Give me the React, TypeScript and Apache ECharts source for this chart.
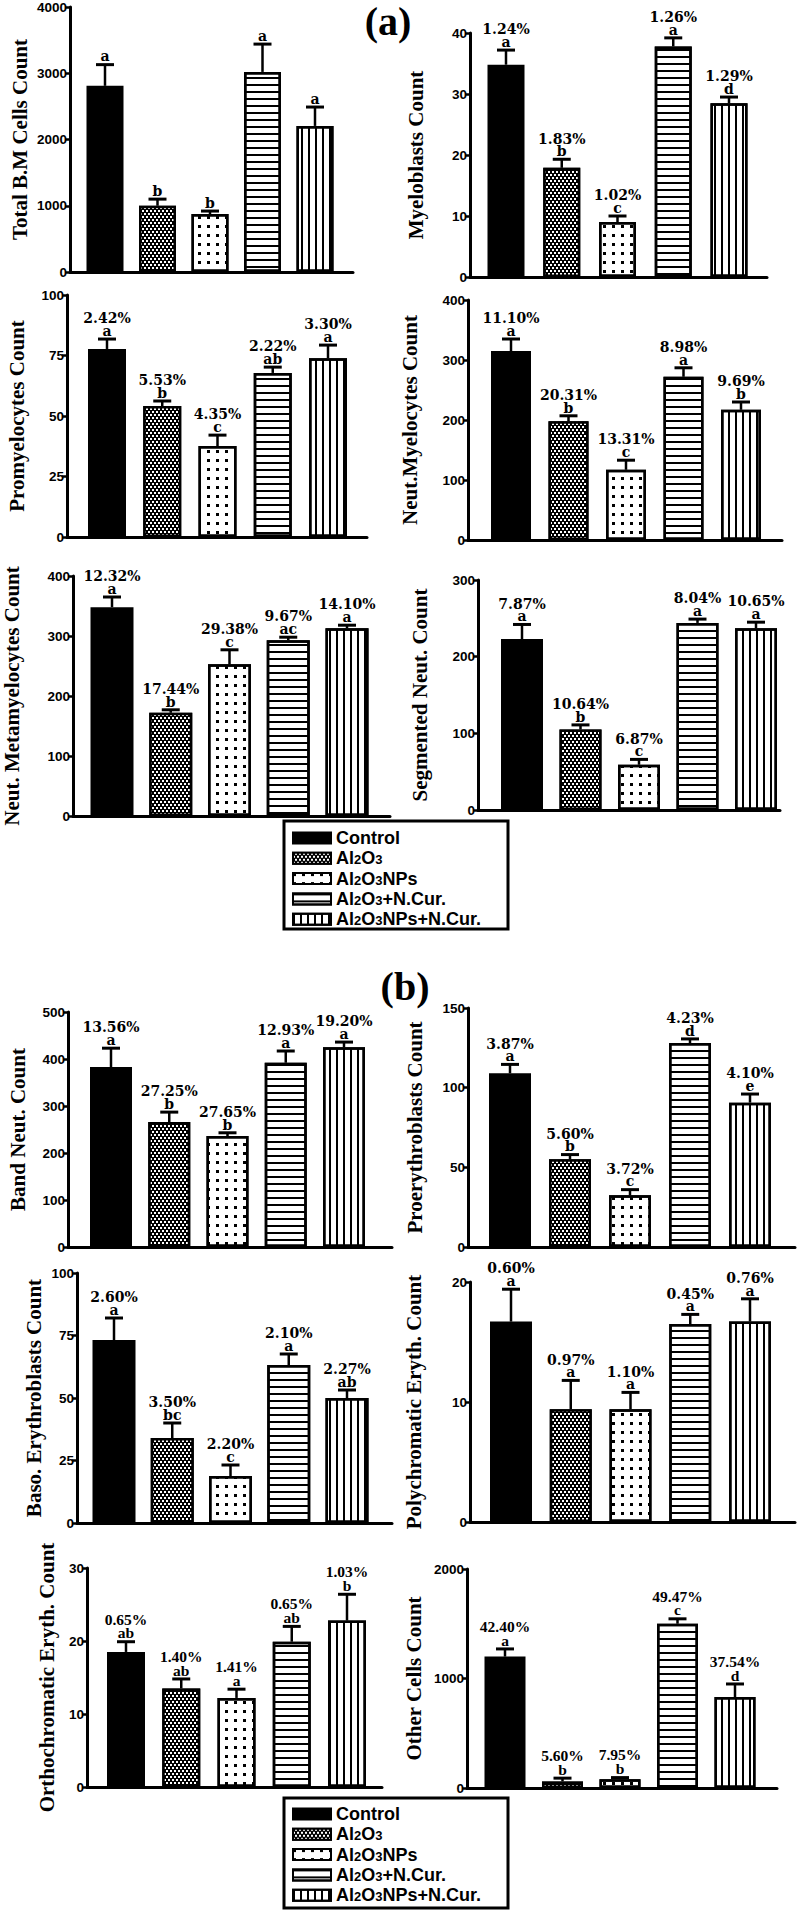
import React, { useEffect, useRef } from 'react';
import * as echarts from 'echarts';

const GROUPS = ['Control', 'Al2O3', 'Al2O3NPs', 'Al2O3+N.Cur.', 'Al2O3NPs+N.Cur.'];

const PANEL_TITLES = [
  'Total B.M Cells Count',
  'Myeloblasts Count',
  'Promyelocytes Count',
  'Neut.Myelocytes Count',
  'Neut. Metamyelocytes Count',
  'Segmented Neut. Count',
  'Band Neut. Count',
  'Proerythroblasts Count',
  'Baso. Erythroblasts Count',
  'Polychromatic Eryth. Count',
  'Orthochromatic Eryth. Count',
  'Other Cells Count',
];

const Y_MAX = [4000, 40, 100, 400, 400, 300, 500, 150, 100, 20, 30, 2000];
const Y_STEP = [1000, 10, 25, 100, 100, 100, 100, 50, 25, 10, 10, 1000];

const MEANS = [
  [2810, 1000, 875, 3020, 2205],
  [34.8, 17.9, 9.0, 37.8, 28.5],
  [77.7, 54.1, 37.6, 67.8, 73.9],
  [315, 198, 117, 272, 217],
  [348, 172, 253, 293, 313],
  [223, 105, 59, 244, 237],
  [383, 266, 236, 392, 425],
  [109, 55, 32.5, 128, 90.6],
  [73.2, 34, 18.8, 63.2, 50],
  [16.7, 9.4, 9.4, 16.5, 16.7],
  [18.5, 13.5, 12.2, 19.9, 22.8],
  [1200, 60, 80, 1500, 830],
];

const ERRS = [
  [320, 100, 45, 420, 285],
  [2.4, 1.4, 1.0, 1.4, 1.0],
  [4.1, 2.1, 4.5, 2.4, 5.4],
  [20, 9, 16, 15, 13],
  [17, 5, 24, 5, 5],
  [19, 6, 7, 5, 8],
  [40, 21, 7, 25, 11],
  [5.6, 3, 3.5, 2.6, 5.4],
  [8.8, 6, 4.4, 4.4, 3.2],
  [2.7, 2.4, 1.4, 0.8, 1.9],
  [1.4, 1.3, 1.2, 2.1, 3.6],
  [70, 30, 15, 45, 120],
];

const LETTERS = [
  ['a', 'b', 'b', 'a', 'a'],
  ['a', 'b', 'c', 'a', 'd'],
  ['a', 'b', 'c', 'ab', 'a'],
  ['a', 'b', 'c', 'a', 'b'],
  ['a', 'b', 'c', 'ac', 'a'],
  ['a', 'b', 'c', 'a', 'a'],
  ['a', 'b', 'b', 'a', 'a'],
  ['a', 'b', 'c', 'd', 'e'],
  ['a', 'bc', 'c', 'a', 'ab'],
  ['a', 'a', 'a', 'a', 'a'],
  ['ab', 'ab', 'a', 'ab', 'b'],
  ['a', 'b', 'b', 'c', 'd'],
];

const PERCENTS = [
  ['', '', '', '', ''],
  ['1.24', '1.83', '1.02', '1.26', '1.29'],
  ['2.42', '5.53', '4.35', '2.22', '3.30'],
  ['11.10', '20.31', '13.31', '8.98', '9.69'],
  ['12.32', '17.44', '29.38', '9.67', '14.10'],
  ['7.87', '10.64', '6.87', '8.04', '10.65'],
  ['13.56', '27.25', '27.65', '12.93', '19.20'],
  ['3.87', '5.60', '3.72', '4.23', '4.10'],
  ['2.60', '3.50', '2.20', '2.10', '2.27'],
  ['0.60', '0.97', '1.10', '0.45', '0.76'],
  ['0.65', '1.40', '1.41', '0.65', '1.03'],
  ['42.40', '5.60', '7.95', '49.47', '37.54'],
];

// layout (pixels)
const LAYOUT = [
  { left: 70, right: 353, top: 7, bottom: 272, c0: 105, step: 52.5, bw: 37, gap: 40, lf: 'DejaVu Serif', ls: 14 },
  { left: 470, right: 767, top: 33, bottom: 277, c0: 506, step: 55.75, bw: 37, gap: 44, lf: 'DejaVu Serif', ls: 14 },
  { left: 67, right: 367, top: 295, bottom: 537, c0: 107, step: 55.25, bw: 38, gap: 40, lf: 'DejaVu Serif', ls: 14 },
  { left: 468, right: 782, top: 300, bottom: 540, c0: 511, step: 57.5, bw: 40, gap: 48, lf: 'DejaVu Serif', ls: 14 },
  { left: 73, right: 390, top: 576, bottom: 816, c0: 112, step: 58.75, bw: 43, gap: 51, lf: 'DejaVu Serif', ls: 14 },
  { left: 478, right: 780, top: 580, bottom: 810, c0: 522, step: 58.5, bw: 42, gap: 48, lf: 'DejaVu Serif', ls: 14 },
  { left: 68, right: 392, top: 1012, bottom: 1247, c0: 111, step: 58.25, bw: 42, gap: 40, lf: 'DejaVu Serif', ls: 14 },
  { left: 468, right: 795, top: 1008, bottom: 1247, c0: 510, step: 60, bw: 42, gap: 43, lf: 'DejaVu Serif', ls: 14 },
  { left: 77, right: 392, top: 1273, bottom: 1523, c0: 114, step: 58.25, bw: 43, gap: 33, lf: 'DejaVu Serif', ls: 14 },
  { left: 470, right: 795, top: 1282, bottom: 1522, c0: 511, step: 59.75, bw: 42, gap: 46, lf: 'DejaVu Serif', ls: 14 },
  { left: 87, right: 382, top: 1568, bottom: 1787, c0: 126, step: 55.25, bw: 38, gap: 30, lf: 'Liberation Serif', ls: 15.5 },
  { left: 467, right: 777, top: 1569, bottom: 1788, c0: 505, step: 57.5, bw: 41, gap: 43, lf: 'Liberation Serif', ls: 15.5 },
];

const BORDER = { borderColor: '#000', borderWidth: 2.5 };
const GROUP_STYLES: any[] = [
  { color: '#000', ...BORDER },
  {
    color: '#000', ...BORDER,
    decal: { symbol: 'rect', symbolSize: 1, color: '#fff', dashArrayX: [[2, 2], [0, 2, 2, 0]], dashArrayY: [2, 1] },
  },
  {
    color: '#fff', ...BORDER,
    decal: { symbol: 'rect', symbolSize: 1, color: '#000', dashArrayX: [2.5, 6], dashArrayY: [2.5, 6] },
  },
  {
    color: '#fff', ...BORDER,
    decal: { symbol: 'rect', symbolSize: 1, color: '#000', dashArrayX: [10, 0], dashArrayY: [2, 5] },
  },
  {
    color: '#fff', ...BORDER,
    decal: { symbol: 'rect', symbolSize: 1, color: '#000', dashArrayX: [2, 4.5], dashArrayY: [10, 0] },
  },
];

const LEGEND_TOPS = [829, 1805];
const LEGEND_BOXES = [
  { x: 284, y: 821, w: 224, h: 108 },
  { x: 284, y: 1798, w: 224, h: 110 },
];

function buildOption() {
  const grid: any[] = [];
  const xAxis: any[] = [];
  const yAxis: any[] = [];
  const series: any[] = [];

  LAYOUT.forEach((L, p) => {
    grid.push({ left: L.left, top: L.top, width: L.right - L.left, height: L.bottom - L.top, containLabel: false });
    xAxis.push({
      gridIndex: p, type: 'value',
      min: -(L.c0 - L.left) / L.step,
      max: (L.right - L.c0) / L.step,
      axisLine: { show: true, onZero: false, lineStyle: { color: '#000', width: 3 } },
      axisTick: { show: false }, axisLabel: { show: false }, splitLine: { show: false },
    });
    yAxis.push({
      gridIndex: p, type: 'value', min: 0, max: Y_MAX[p], interval: Y_STEP[p],
      name: PANEL_TITLES[p], nameLocation: 'middle', nameGap: L.gap, nameRotate: 90,
      nameTextStyle: { fontFamily: 'Liberation Serif', fontWeight: 'bold', fontSize: 21, color: '#000' },
      axisLine: { show: true, onZero: false, lineStyle: { color: '#000', width: 3 } },
      axisTick: { show: true, length: 5, lineStyle: { color: '#000', width: 2.5 } },
      axisLabel: {
        color: '#000', fontFamily: 'Liberation Sans', fontWeight: 'bold', fontSize: 13.5, margin: 3,
        formatter: (v: number) => String(v),
      },
      splitLine: { show: false },
    });
    GROUPS.forEach((g, gi) => {
      series.push({
        type: 'bar', name: g, xAxisIndex: p, yAxisIndex: p,
        data: [[gi, MEANS[p][gi]]],
        barWidth: L.bw, barGap: '-100%',
        itemStyle: GROUP_STYLES[gi],
        emphasis: { disabled: true },
      });
    });
    const lh = Math.round(L.ls * 0.89 * 10) / 10;
    series.push({
      type: 'custom', xAxisIndex: p, yAxisIndex: p, z: 5,
      data: MEANS[p].map((m, i) => [i, m, m + ERRS[p][i]]),
      renderItem: (params: any, api: any) => {
        const idx = params.dataIndex;
        const base = api.coord([api.value(0), api.value(1)]);
        const top = api.coord([api.value(0), api.value(2)]);
        const pct = PERCENTS[p][idx];
        const label = pct ? `${pct}%\n${LETTERS[p][idx]}` : LETTERS[p][idx];
        return {
          type: 'group',
          children: [
            { type: 'line', shape: { x1: base[0], y1: base[1], x2: top[0], y2: top[1] }, style: { stroke: '#000', lineWidth: 2.5 } },
            { type: 'line', shape: { x1: top[0] - 9, y1: top[1], x2: top[0] + 9, y2: top[1] }, style: { stroke: '#000', lineWidth: 3 } },
            {
              type: 'text', x: top[0], y: top[1] - 2,
              style: {
                text: label, fontFamily: L.lf, fontWeight: 'bold', fontSize: L.ls, lineHeight: lh, fill: '#000',
                align: 'center', verticalAlign: 'bottom', textAlign: 'center', textVerticalAlign: 'bottom',
              },
            },
          ],
        };
      },
    });
  });

  const legendText = {
    fontFamily: 'Liberation Sans', fontWeight: 'bold', fontSize: 18, color: '#000', lineHeight: 16,
    rich: { s: { fontFamily: 'Liberation Sans', fontWeight: 'bold', fontSize: 13, lineHeight: 12, verticalAlign: 'bottom', color: '#000' } },
  };
  const legend = LEGEND_TOPS.map((t) => ({
    data: GROUPS, orient: 'vertical', left: 292, top: t, padding: 0,
    itemWidth: 38, itemHeight: 11, itemGap: 2.3, icon: 'rect', selectedMode: false,
    itemStyle: { borderColor: '#000', borderWidth: 2 },
    textStyle: legendText,
    formatter: (name: string) => name.replace(/Al2O3/g, 'Al{s|2}O{s|3}'),
  }));

  const graphic: any[] = [
    { type: 'text', x: 388, y: 21, style: { text: '(a)', font: 'bold 40px "Liberation Serif"', fill: '#000', textAlign: 'center', textVerticalAlign: 'middle' } },
    { type: 'text', x: 405, y: 986, style: { text: '(b)', font: 'bold 40px "Liberation Serif"', fill: '#000', textAlign: 'center', textVerticalAlign: 'middle' } },
    ...LEGEND_BOXES.map((b) => ({
      type: 'rect', shape: { x: b.x, y: b.y, width: b.w, height: b.h },
      style: { fill: 'none', stroke: '#000', lineWidth: 3 },
    })),
  ];

  return { animation: false, backgroundColor: '#fff', grid, xAxis, yAxis, series, legend, graphic };
}

export default function App() {
  const ref = useRef<HTMLDivElement>(null);
  useEffect(() => {
    document.body.style.margin = '0';
    const chart = echarts.init(ref.current!, null, { renderer: 'svg' });
    chart.setOption(buildOption() as any);
    return () => chart.dispose();
  }, []);
  return <div ref={ref} style={{ width: 800, height: 1912 }} />;
}
